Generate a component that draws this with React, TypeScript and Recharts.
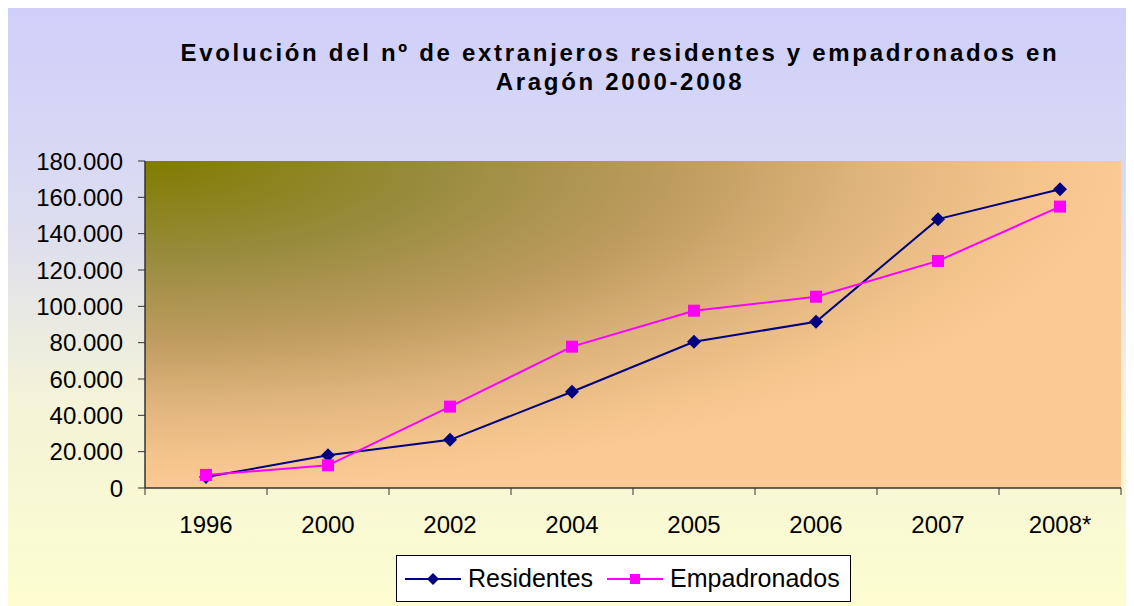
import { ComposedChart, Line, XAxis, YAxis, CartesianGrid, Legend } from "recharts"

const years = ["1996", "2000", "2002", "2004", "2005", "2006", "2007", "2008*"]
const residentes = [6000, 18000, 26500, 53000, 80500, 91500, 148000, 164500]
const empadronados = [7200, 12500, 44800, 77800, 97600, 105300, 125000, 154900]
const yTicks = [0, 20000, 40000, 60000, 80000, 100000, 120000, 140000, 160000, 180000]
const seriesOrder = ["Residentes", "Empadronados"]

const data = years.map((year, i) => ({
  year,
  Residentes: residentes[i],
  Empadronados: empadronados[i],
}))

const NAVY = "#000080"
const MAGENTA = "#ff00ff"
const FONT = '"Liberation Sans", Arial, sans-serif'

const CHART_W = 1126
const Y_AXIS_W = 137
const RIGHT_M = 13
const PLOT_W = CHART_W - Y_AXIS_W - RIGHT_M
const HALF_BAND = PLOT_W / years.length / 2

const fmt = (v: number) => v.toLocaleString("de-DE")

function Diamond(props: any) {
  const { cx, cy } = props
  if (cx == null || cy == null) return null
  return <path d={`M${cx},${cy - 7}L${cx + 7},${cy}L${cx},${cy + 7}L${cx - 7},${cy}Z`} fill={NAVY} />
}

function Square(props: any) {
  const { cx, cy } = props
  if (cx == null || cy == null) return null
  return <rect x={cx - 6} y={cy - 6} width={12} height={12} fill={MAGENTA} />
}

// category label in the middle, tick marks on the category edges (Excel style)
function CatTick(props: any) {
  const { x, y, payload, index, visibleTicksCount } = props
  const left = x - HALF_BAND
  const right = x + HALF_BAND
  return (
    <g>
      <line x1={left} y1={y} x2={left} y2={y + 7} stroke="#333" />
      {index === visibleTicksCount - 1 && <line x1={right} y1={y} x2={right} y2={y + 7} stroke="#333" />}
      <text x={x} y={y + 28} dy="0.71em" textAnchor="middle" fill="#000" fontSize={24} fontFamily={FONT}>
        {payload.value}
      </text>
    </g>
  )
}

function LegendBox(props: any) {
  const items = [...(props.payload || [])].sort(
    (a: any, b: any) => seriesOrder.indexOf(a.value) - seriesOrder.indexOf(b.value)
  )
  return (
    <div
      style={{
        display: "inline-flex",
        alignItems: "center",
        border: "1px solid #000",
        background: "#fff",
        height: 45,
        padding: "0 10px 0 8px",
        fontFamily: FONT,
        fontSize: 25,
        color: "#000",
      }}
    >
      {items.map((it: any, i: number) => (
        <div key={it.value} style={{ display: "flex", alignItems: "center", marginLeft: i ? 14 : 0 }}>
          <svg width={56} height={16} style={{ marginRight: 7 }}>
            <line x1={0} y1={8} x2={56} y2={8} stroke={it.color} strokeWidth={2} />
            {it.value === "Residentes" ? (
              <path d="M28,2L34,8L28,14L22,8Z" fill={NAVY} />
            ) : (
              <rect x={23} y={3} width={10} height={10} fill={MAGENTA} />
            )}
          </svg>
          <span>{it.value}</span>
        </div>
      ))}
    </div>
  )
}

export default function App() {
  return (
    <div
      style={{
        position: "relative",
        width: CHART_W,
        height: 598,
        background: "linear-gradient(to bottom, #cfcffb 0%, #dcdcf0 35%, #f3f3d8 65%, #fdfdd0 100%)",
      }}
    >
      <div
        style={{
          position: "absolute",
          left: 112,
          top: 30,
          width: 1000,
          textAlign: "center",
          fontFamily: FONT,
          fontWeight: "bold",
          fontSize: 24,
          lineHeight: "29px",
          letterSpacing: "2.7px",
          color: "#000",
        }}
      >
        Evolución del nº de extranjeros residentes y empadronados en
        <br />
        Aragón 2000-2008
      </div>
      <ComposedChart
        width={CHART_W}
        height={598}
        data={data}
        margin={{ top: 153, right: RIGHT_M, left: 0, bottom: 11 }}
        style={{ position: "absolute", left: 0, top: 0 }}
      >
        <defs>
          <radialGradient id="plotBg" cx="0" cy="0" r="1" fx="0" fy="0">
            <stop offset="0" stopColor="#807c00" />
            <stop offset="0.3" stopColor="#988c3e" />
            <stop offset="0.55" stopColor="#bf9c60" />
            <stop offset="0.75" stopColor="#e0b67e" />
            <stop offset="0.92" stopColor="#f6c58e" />
            <stop offset="1" stopColor="#fbc994" />
          </radialGradient>
        </defs>
        <CartesianGrid horizontal={false} vertical={false} fill="url(#plotBg)" stroke="none" />
        <XAxis
          dataKey="year"
          height={60}
          padding={{ left: HALF_BAND, right: HALF_BAND }}
          axisLine={{ stroke: "#333", strokeWidth: 1.5 }}
          tickLine={false}
          tickSize={0}
          tickMargin={0}
          interval={0}
          tick={<CatTick />}
        />
        <YAxis
          domain={[0, 180000]}
          ticks={yTicks}
          width={Y_AXIS_W}
          tickSize={7}
          tickMargin={15}
          tickFormatter={fmt}
          axisLine={{ stroke: "#333", strokeWidth: 1.5 }}
          tickLine={{ stroke: "#333" }}
          tick={{ fill: "#000", fontSize: 24, fontFamily: FONT }}
        />
        <Legend
          verticalAlign="bottom"
          content={<LegendBox />}
          wrapperStyle={{ left: 388, bottom: 4, width: "auto" }}
        />
        <Line
          dataKey="Residentes"
          stroke={NAVY}
          strokeWidth={2}
          dot={<Diamond />}
          activeDot={false}
          isAnimationActive={false}
        />
        <Line
          dataKey="Empadronados"
          stroke={MAGENTA}
          strokeWidth={2}
          dot={<Square />}
          activeDot={false}
          isAnimationActive={false}
        />
      </ComposedChart>
    </div>
  )
}
